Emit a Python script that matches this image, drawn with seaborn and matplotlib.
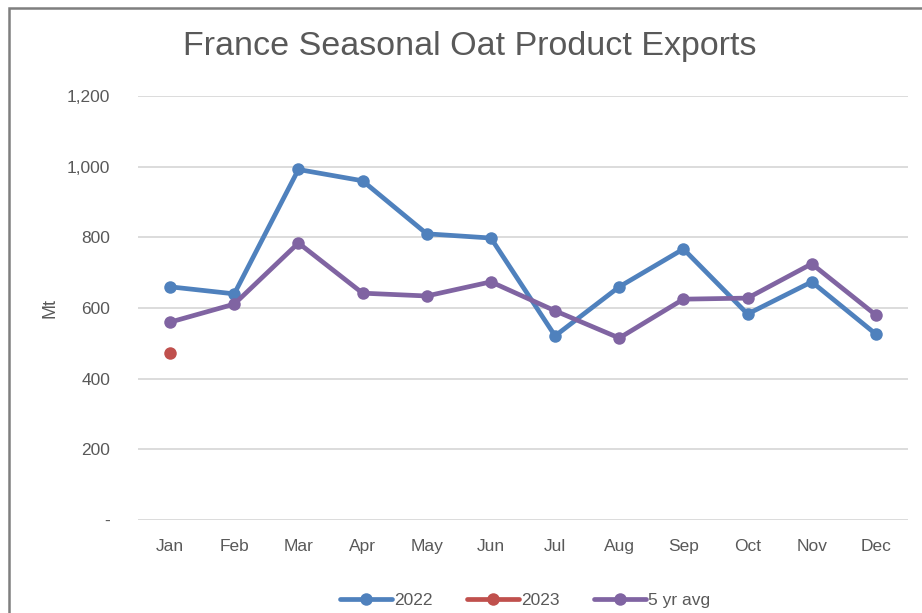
import numpy as np
import pandas as pd
import seaborn as sns
import matplotlib.pyplot as plt
from matplotlib.patches import Rectangle

# data
months = ['Jan', 'Feb', 'Mar', 'Apr', 'May', 'Jun', 'Jul', 'Aug', 'Sep', 'Oct', 'Nov', 'Dec']
exports_2022 = [660, 640, 992, 960, 810, 798, 521, 660, 767, 583, 674, 526]
exports_2023 = [473, np.nan, np.nan, np.nan, np.nan, np.nan, np.nan, np.nan, np.nan, np.nan, np.nan, np.nan]
avg_5yr = [560, 611, 784, 642, 634, 674, 592, 515, 625, 628, 725, 580]
series_names = ['2022', '2023', '5 yr avg']
colors = ['#4F81BD', '#C0504D', '#8064A2']

df = pd.DataFrame({'month': months, '2022': exports_2022, '2023': exports_2023, '5 yr avg': avg_5yr})
df_long = df.melt(id_vars='month', var_name='series', value_name='Mt').dropna()

sns.set_style('white')
plt.rcParams['font.family'] = ['Liberation Sans', 'DejaVu Sans']
text_col = '#595959'

fig = plt.figure(figsize=(9.22, 6.13), dpi=100)
ax = fig.add_axes([138 / 922, 1 - 520 / 613, 770 / 922, 424 / 613])

sns.lineplot(data=df_long, x='month', y='Mt', hue='series', hue_order=series_names,
             palette=colors, marker='o', markersize=9, markeredgewidth=0,
             linewidth=3.4, sort=False, ax=ax)

ax.set_xlim(-0.5, 11.5)
ax.set_ylim(0, 1200)
ax.set_yticks(range(0, 1201, 200))
ax.set_yticklabels(['-'] + [f'{v:,}' for v in range(200, 1201, 200)])
ax.grid(axis='y', color='#D9D9D9', linewidth=1.3)
ax.set_axisbelow(True)
for s in ax.spines.values():
    s.set_visible(False)
ax.tick_params(axis='both', length=0, labelsize=12.5, colors=text_col)
ax.tick_params(axis='y', pad=20)
ax.tick_params(axis='x', pad=14)
ax.set_xlabel('')
ax.set_ylabel('Mt', fontsize=13, color=text_col)
ax.yaxis.set_label_coords(-80 / 770, 0.5)

fig.text(470 / 922, 1 - 47 / 613, 'France Seasonal Oat Product Exports',
         ha='center', va='center', fontsize=24.5, color=text_col)

handles, labels = ax.get_legend_handles_labels()
ax.legend(handles, labels, loc='center', bbox_to_anchor=(525 / 922, 1 - 600 / 613),
          bbox_transform=fig.transFigure, ncol=3, frameon=False, fontsize=12.5,
          handlelength=3, handletextpad=0.1, columnspacing=2.0, labelcolor=text_col)

# chart border (cut off on right and bottom like the reference)
fig.patches.append(Rectangle((8.5 / 922, -0.1), 1.2, 1 - 8.5 / 613 + 0.1,
                             transform=fig.transFigure, fill=False,
                             edgecolor='#7F7F7F', linewidth=1.8))

fig.savefig('out.png', dpi=100)
